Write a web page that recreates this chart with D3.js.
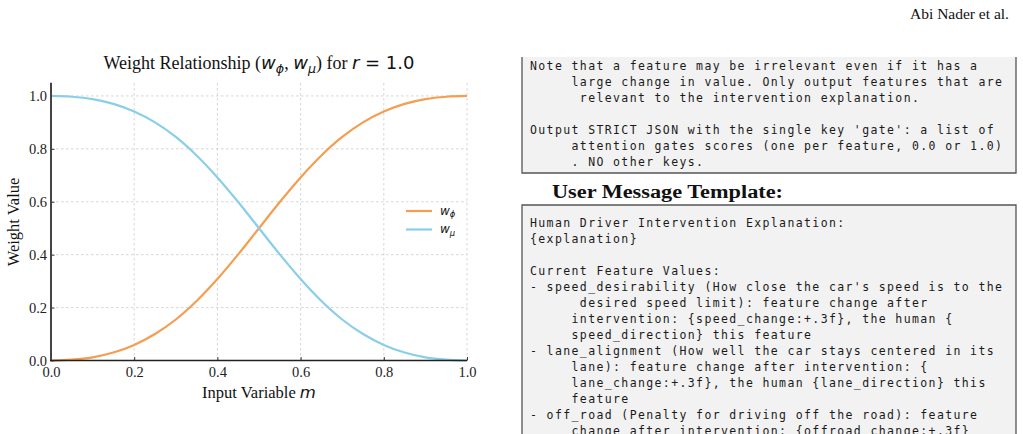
<!DOCTYPE html>
<html>
<head>
<meta charset="utf-8">
<script src="https://cdn.jsdelivr.net/npm/d3@7"></script>
<style>
  body { margin: 0; background: #fff; }
  svg text { white-space: pre; }
</style>
</head>
<body>
<div id="page"></div>
<script>
/* weight relationship chart + prompt boxes from the page */

// input variable m and the two weights
const mValues = [0, 0.05, 0.1, 0.15, 0.2, 0.25, 0.3, 0.35, 0.4, 0.45, 0.5,
  0.55, 0.6, 0.65, 0.7, 0.75, 0.8, 0.85, 0.9, 0.95, 1.0];
const wPhi = [0, 0.003, 0.012, 0.030, 0.059, 0.100, 0.155, 0.225, 0.308, 0.401, 0.500,
  0.599, 0.692, 0.775, 0.845, 0.900, 0.941, 0.970, 0.988, 0.997, 1.0];
const wMu = [1.0, 0.997, 0.988, 0.970, 0.941, 0.900, 0.845, 0.775, 0.692, 0.599, 0.500,
  0.401, 0.308, 0.225, 0.155, 0.100, 0.059, 0.030, 0.012, 0.003, 0];
const xTicks = [0, 0.2, 0.4, 0.6, 0.8, 1.0];
const yTicks = [0, 0.2, 0.4, 0.6, 0.8, 1.0];

const box1Lines = [
  "Note that a feature may be irrelevant even if it has a",
  "     large change in value. Only output features that are",
  "      relevant to the intervention explanation.",
  "",
  "Output STRICT JSON with the single key 'gate': a list of",
  "     attention gates scores (one per feature, 0.0 or 1.0)",
  "     . NO other keys."
];
const box2Lines = [
  "Human Driver Intervention Explanation:",
  "{explanation}",
  "",
  "Current Feature Values:",
  "- speed_desirability (How close the car's speed is to the",
  "      desired speed limit): feature change after",
  "     intervention: {speed_change:+.3f}, the human {",
  "     speed_direction} this feature",
  "- lane_alignment (How well the car stays centered in its",
  "     lane): feature change after intervention: {",
  "     lane_change:+.3f}, the human {lane_direction} this",
  "     feature",
  "- off_road (Penalty for driving off the road): feature",
  "     change after intervention: {offroad_change:+.3f}"
];

const serif = "'Liberation Serif', serif";
const sans = "'DejaVu Sans', sans-serif";
const mono = "'DejaVu Sans Mono', monospace";
const orange = "#f59d50";
const blue = "#89cfe9";

const svg = d3.select('#page').append('svg')
  .attr('width', 1023)
  .attr('height', 434);

const xScale = d3.scaleLinear().domain([0, 1]).range([51, 467]);
const yScale = d3.scaleLinear().domain([0, 1.05]).range([360.5, 82.7]);

const g = svg.append('g');

// grid
g.selectAll('.vgrid').data(xTicks.slice(1)).enter().append('line')
  .attr('x1', d => xScale(d)).attr('x2', d => xScale(d))
  .attr('y1', yScale(0)).attr('y2', yScale(1.05))
  .attr('stroke', '#cccccc').attr('stroke-width', 0.8)
  .attr('stroke-dasharray', '2.5,2.5');
g.selectAll('.hgrid').data(yTicks.slice(1)).enter().append('line')
  .attr('x1', xScale(0)).attr('x2', xScale(1))
  .attr('y1', d => yScale(d)).attr('y2', d => yScale(d))
  .attr('stroke', '#cccccc').attr('stroke-width', 0.8)
  .attr('stroke-dasharray', '2.5,2.5');

// axes, ticks point inward
const xAxis = g.append('g')
  .attr('transform', `translate(0,${yScale(0)})`)
  .call(d3.axisBottom(xScale).tickValues(xTicks).tickFormat(d3.format('.1f'))
    .tickSizeInner(-3.5).tickSizeOuter(0).tickPadding(6));
const yAxis = g.append('g')
  .attr('transform', `translate(${xScale(0)},0)`)
  .call(d3.axisLeft(yScale).tickValues(yTicks).tickFormat(d3.format('.1f'))
    .tickSizeInner(-3.5).tickSizeOuter(0).tickPadding(4));
[xAxis, yAxis].forEach(a => {
  a.select('.domain').remove();
  a.selectAll('line').attr('stroke', '#333');
  a.selectAll('text').attr('font-family', serif).attr('font-size', 14.5).attr('fill', '#222');
});

// lines
const line = d3.line().curve(d3.curveMonotoneX)
  .x((d, i) => xScale(mValues[i]))
  .y(d => yScale(d));
g.append('path').datum(wPhi)
  .attr('fill', 'none').attr('stroke', orange).attr('stroke-width', 2.2)
  .attr('d', line);
g.append('path').datum(wMu)
  .attr('fill', 'none').attr('stroke', blue).attr('stroke-width', 2.2)
  .attr('d', line);

// spines
g.append('line')
  .attr('x1', xScale(0)).attr('x2', xScale(0))
  .attr('y1', yScale(1.05)).attr('y2', yScale(0) + 0.8)
  .attr('stroke', '#444').attr('stroke-width', 2);
g.append('line')
  .attr('x1', xScale(0) - 1).attr('x2', xScale(1))
  .attr('y1', yScale(0)).attr('y2', yScale(0))
  .attr('stroke', '#222').attr('stroke-width', 1.6);

// math-ish w with a subscript, returns the dy needed to get back to baseline
function mathW(sel, sub, size) {
  sel.append('tspan').attr('font-family', sans).attr('font-style', 'italic').text('w');
  sel.append('tspan').attr('font-family', sans).attr('font-style', 'italic')
    .attr('font-size', size * 0.7).attr('dy', size * 0.22).text(sub);
  return -size * 0.22;
}

// title
const title = svg.append('text')
  .attr('x', 259).attr('y', 69)
  .attr('text-anchor', 'middle')
  .attr('font-family', serif).attr('font-size', 18).attr('fill', '#111');
title.append('tspan').text('Weight Relationship (');
let back = mathW(title, 'ϕ', 18);
title.append('tspan').attr('dy', back).text(', ');
back = mathW(title, 'μ', 18);
title.append('tspan').attr('dy', back).text(') for ');
title.append('tspan').attr('font-family', sans).attr('font-style', 'italic').text('r');
title.append('tspan').attr('font-family', sans).text(' = 1.0');

// axis labels
const xl = svg.append('text')
  .attr('x', 259).attr('y', 398)
  .attr('text-anchor', 'middle')
  .attr('font-family', serif).attr('font-size', 16.5).attr('fill', '#111');
xl.append('tspan').text('Input Variable ');
xl.append('tspan').attr('font-family', sans).attr('font-style', 'italic').text('m');

svg.append('text')
  .attr('transform', 'translate(19,222) rotate(-90)')
  .attr('text-anchor', 'middle')
  .attr('font-family', serif).attr('font-size', 16.5).attr('fill', '#111')
  .text('Weight Value');

// legend
const legend = [{ sub: 'ϕ', color: orange }, { sub: 'μ', color: blue }];
legend.forEach((d, i) => {
  const ly = 211 + i * 18.5;
  svg.append('line')
    .attr('x1', 406).attr('x2', 432).attr('y1', ly).attr('y2', ly)
    .attr('stroke', d.color).attr('stroke-width', 2.2);
  const t = svg.append('text')
    .attr('x', 440).attr('y', ly + 3.5)
    .attr('font-size', 12).attr('fill', '#111');
  mathW(t, d.sub, 12);
});

// running header
svg.append('text')
  .attr('x', 1009).attr('y', 19)
  .attr('text-anchor', 'end')
  .attr('font-family', serif).attr('font-size', 15.5).attr('fill', '#111')
  .text('Abi Nader et al.');

// prompt boxes
const boxL = 522, boxR = 1016;
svg.append('rect').attr('x', boxL).attr('y', 57).attr('width', boxR - boxL).attr('height', 116)
  .attr('fill', '#f2f2f2');
svg.append('path')
  .attr('d', `M${boxL},57V173H${boxR}V57`)
  .attr('fill', 'none').attr('stroke', '#555').attr('stroke-width', 1.3);

svg.append('rect').attr('x', boxL).attr('y', 205).attr('width', boxR - boxL).attr('height', 240)
  .attr('fill', '#f2f2f2');
svg.append('path')
  .attr('d', `M${boxL},445V205H${boxR}V445`)
  .attr('fill', 'none').attr('stroke', '#555').attr('stroke-width', 1.3);

function monoLines(lines, y0) {
  svg.selectAll(null).data(lines).enter().append('text')
    .attr('x', 530)
    .attr('y', (d, i) => y0 + i * 16)
    .attr('font-family', mono).attr('font-size', 11.5)
    .attr('letter-spacing', 1.38)
    .attr('fill', '#1a1a1a')
    .text(d => d);
}
monoLines(box1Lines, 69.5);
monoLines(box2Lines, 227);

svg.append('text')
  .attr('x', 552).attr('y', 198)
  .attr('font-family', serif).attr('font-size', 18).attr('font-weight', 'bold')
  .attr('textLength', 231).attr('lengthAdjust', 'spacingAndGlyphs')
  .attr('fill', '#111')
  .text('User Message Template:');
</script>
</body>
</html>
